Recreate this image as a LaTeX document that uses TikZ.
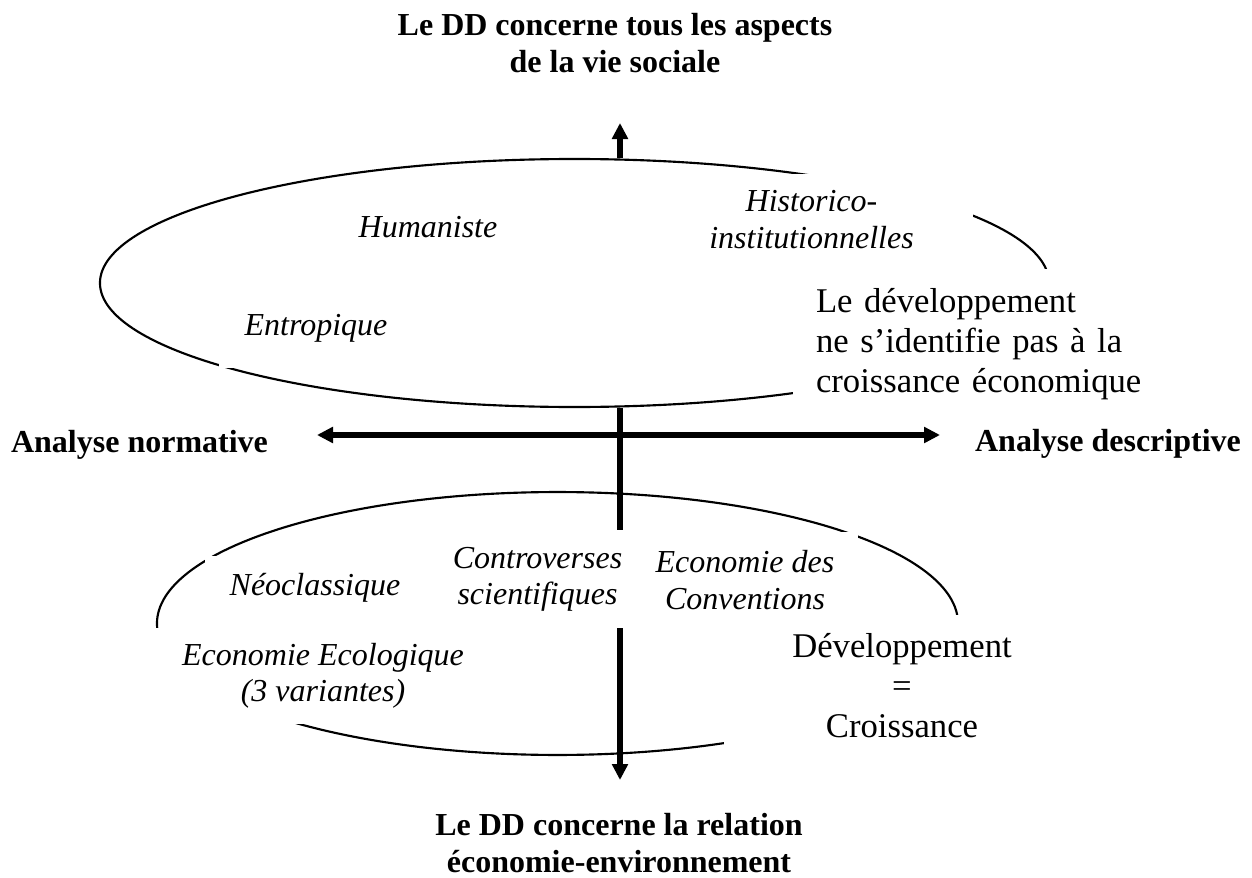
\documentclass[tikz,border=0pt]{standalone}
\usepackage{fontspec}
\setmainfont{Liberation Serif}
\usetikzlibrary{shapes.geometric, arrows.meta, positioning}

\begin{document}
\begin{tikzpicture}[
  x=0.375pt, y=-0.375pt,
  titre/.style={font=\fontsize{12}{13.9}\selectfont\bfseries, align=center, inner sep=0pt},
  ecole/.style={font=\fontsize{12}{13.6}\selectfont\itshape, align=center, fill=white, inner sep=0pt},
  these/.style={font=\fontsize{13}{15}\selectfont, fill=white, inner sep=0pt},
  bulle/.style={ellipse, draw=black, line width=0.8pt, inner sep=0pt},
  fleche/.style={-{Triangle[length=6pt, width=5.8pt]}, line width=1.9pt},
  flechedouble/.style={{Triangle[length=6pt, width=5.8pt]}-{Triangle[length=6pt, width=5.8pt]}, line width=1.9pt}
]
\useasboundingbox (0,0) rectangle (1252,878);

% --- Ellipses ---
\node[bulle, minimum width=355.9pt, minimum height=93pt] (haut) at (574.5,283) {};
\node[bulle, minimum width=300.4pt, minimum height=98.6pt] (bas) at (557.5,623.5) {};

% --- Axes ---
\coordinate (pointehaut) at (620,123);
\coordinate (pointebas) at (620,780);
\coordinate (gauche) at (317,435);
\coordinate (droite) at (940,435);

\draw[fleche] (pointehaut |- haut.north) -- (pointehaut);
\draw[fleche] (pointebas |- haut.south) -- (pointebas);
\draw[flechedouble] (gauche) -- (droite);

% --- Titres ---
\node[titre] (titrehaut) at (615,43) {Le DD concerne tous les aspects\\de la vie sociale};
\node[titre] (titrebas) at (619,843) {Le DD concerne la relation\\économie-environnement};
\node[titre, anchor=base] (normative) at (139.5,452) {Analyse normative};
\node[titre, anchor=base] (descriptive) at (1108,451) {Analyse descriptive};

% --- Ecoles, ellipse du haut ---
\node[ecole, anchor=base] (humaniste) at (428,237) {Humaniste};
\node[ecole, minimum width=72.75pt, minimum height=30pt] (entropique) at (316,328) {Entropique};
\node[ecole, minimum width=121.1pt, minimum height=34.1pt] (historico) at (811.5,219.5) {Historico-\\institutionnelles};
\node[these, text width=123.75pt, inner xsep=8.6pt, minimum height=56.25pt, align=left] (ledev) at (981,344) {Le développement\\ne s’identifie pas à la\\croissance économique};

% --- Ecoles, ellipse du bas ---
\node[ecole, minimum width=82.5pt, minimum height=23.6pt] (neoclassique) at (315,587.5) {Néoclassique};
\node[ecole, minimum width=76.9pt, minimum height=36.75pt] (controverses) at (537.5,579) {Controverses\\scientifiques};
\node[ecole, minimum width=129.75pt, minimum height=36pt] (ecologique) at (323,676) {Economie Ecologique\\(3 variantes)};
\node[ecole, minimum width=84.75pt, minimum height=36pt] (conventions) at (745,580) {Economie des\\Conventions};
\node[these, align=center, minimum width=133.5pt, minimum height=53.25pt] (croissance) at (902,686) {Développement\\=\\Croissance};
\end{tikzpicture}
\end{document}
